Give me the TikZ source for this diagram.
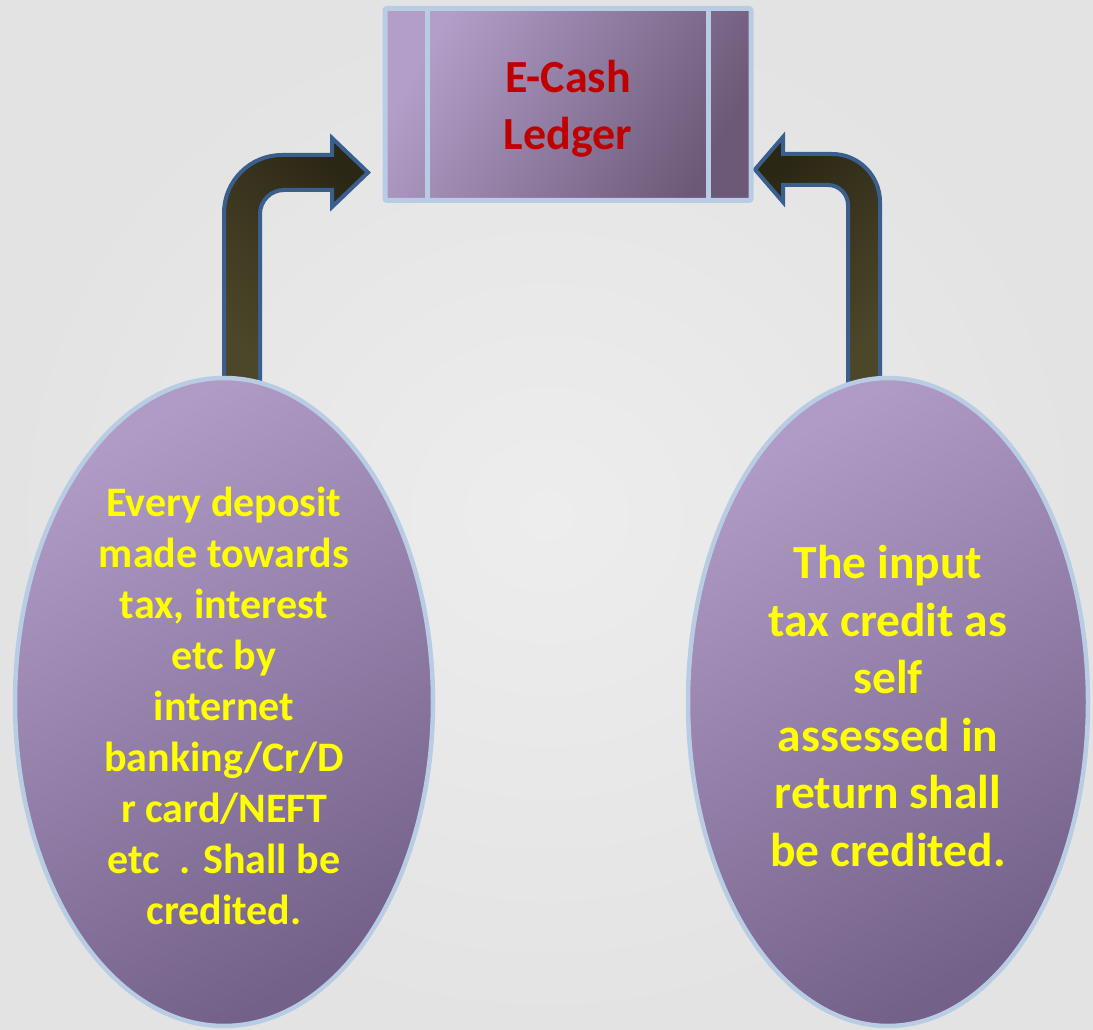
\documentclass[tikz,border=0pt]{standalone}
\usepackage{fontspec}
\setmainfont{Carlito}
\usetikzlibrary{shapes.geometric,calc}

\definecolor{bgin}{HTML}{EDEDED}
\definecolor{bgout}{HTML}{E3E3E3}
\definecolor{edgeblue}{HTML}{B8CDE4}
\definecolor{violetlight}{HTML}{B39EC9}
\definecolor{violetdark}{HTML}{6C5977}
\definecolor{bubbletop}{HTML}{AF9BC5}
\definecolor{bubblebottom}{HTML}{74618A}
\definecolor{arrowline}{HTML}{3A5E8E}
\definecolor{arrowdark}{HTML}{2B2715}
\definecolor{arrowlight}{HTML}{4C4729}
\definecolor{ledgerred}{HTML}{C00000}
\definecolor{noteyellow}{HTML}{FFFF00}

\tikzset{
  ledgerbox/.style={draw=edgeblue, line width=5pt, rounded corners=2pt,
    top color=violetlight, bottom color=violetdark, shading angle=60,
    minimum width=366pt, minimum height=192pt, inner sep=0pt},
  ledgertext/.style={align=center, text=ledgerred, inner sep=0pt,
    font=\bfseries\fontsize{46}{57}\selectfont},
  divider/.style={draw=edgeblue, line width=5pt},
  bubble/.style={ellipse, draw=edgeblue, line width=4.5pt,
    top color=bubbletop, bottom color=bubblebottom, shading angle=30,
    inner sep=0pt},
  note/.style={align=center, text=noteyellow, inner sep=0pt},
  blockarrow/.style={draw=arrowline, line width=4pt, line join=miter,
    top color=arrowdark, bottom color=arrowlight}
}

\begin{document}
\begin{tikzpicture}[x=1pt,y=-1pt]
\useasboundingbox (0,0) rectangle (1093,1030);
\shade[inner color=bgin, outer color=bgout] (0,0) rectangle (1093,1030);

% bent block arrows (drawn first, the ellipses cover their feet)
\coordinate (la1) at (224,385);
\coordinate (la2) at (224,213);
\coordinate (la3) at (282,155);
\coordinate (la4) at (332,155);
\coordinate (la5) at (332,138);
\coordinate (latip) at (368,172.5);
\coordinate (la6) at (332,207);
\coordinate (la7) at (332,190);
\coordinate (la8) at (284,190);
\coordinate (la9) at (260,214);
\coordinate (la10) at (260,385);
\path[blockarrow, shading angle=-45]
  (la1) -- (la2) .. controls (224,181) and (250,155) .. (la3)
  -- (la4) -- (la5) -- (latip) -- (la6) -- (la7) -- (la8)
  .. controls (270.75,190) and (260,200.75) .. (la9) -- (la10) -- cycle;

\coordinate (ra1) at (880,385);
\coordinate (ra2) at (880,202);
\coordinate (ra3) at (832,154);
\coordinate (ra4) at (783,154);
\coordinate (ra5) at (783,137);
\coordinate (ratip) at (755,169.5);
\coordinate (ra6) at (783,202);
\coordinate (ra7) at (783,185);
\coordinate (ra8) at (828,185);
\coordinate (ra9) at (848,205);
\coordinate (ra10) at (848,385);
\path[blockarrow, shading angle=45]
  (ra1) -- (ra2) .. controls (880,175.5) and (858.5,154) .. (ra3)
  -- (ra4) -- (ra5) -- (ratip) -- (ra6) -- (ra7) -- (ra8)
  .. controls (839,185) and (848,194) .. (ra9) -- (ra10) -- cycle;

% ledger box with its two side bars
\node[ledgerbox] (ledger) at (568,104.5) {};
\draw[divider] ($(ledger.north west)+(45,0)$) -- ($(ledger.south west)+(45,0)$);
\draw[divider] ($(ledger.north east)+(-45,0)$) -- ($(ledger.south east)+(-45,0)$);
\node[ledgertext] (ledgerText) at (568,109) {E-Cash\\Ledger};

% the two sources
\node[bubble, minimum width=418pt, minimum height=648pt] (deposit) at (224,702) {};
\node[note, font=\bfseries\fontsize{42}{51}\selectfont] (depositText) at (224,706)
  {Every deposit\\made towards\\tax, interest\\etc by\\internet\\banking/Cr/D\\r card/NEFT\\etc\ \ . Shall be\\credited.};

\node[bubble, minimum width=400pt, minimum height=648pt] (itc) at (888,702) {};
\node[note, font=\bfseries\fontsize{47.5}{57.5}\selectfont] (itcText) at (888,706)
  {The input\\tax credit as\\self\\assessed in\\return shall\\be credited.};
\end{tikzpicture}
\end{document}
